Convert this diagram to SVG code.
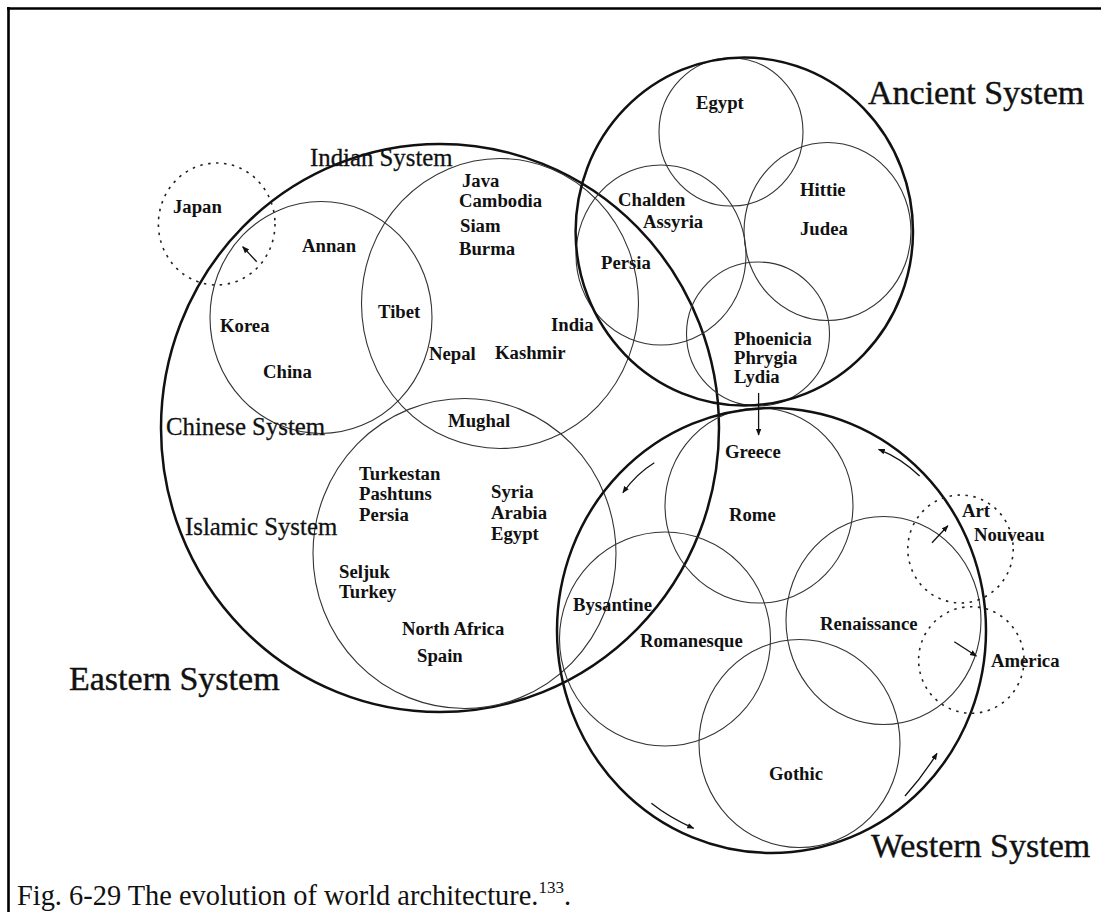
<svg xmlns="http://www.w3.org/2000/svg" width="1101" height="912" viewBox="0 0 1101 912">
  <style>
    .frame { fill: none; stroke: #000; stroke-width: 2.6; }
    .sys { fill: none; stroke: #111; stroke-width: 2.5; }
    .sub { fill: none; stroke: #333; stroke-width: 1.1; }
    .dash { fill: none; stroke: #222; stroke-width: 1.6; stroke-dasharray: 2.5 5.5; }
    .arr { fill: none; stroke: #111; stroke-width: 1.3; marker-end: url(#head); }
    .place { font-family: "Liberation Serif", "Times New Roman", serif; font-weight: bold; font-size: 18.7px; fill: #111; }
    .subsys { font-family: "Liberation Serif", "Times New Roman", serif; font-size: 24.8px; fill: #111; stroke: #111; stroke-width: 0.3; }
    .big { font-family: "Liberation Serif", "Times New Roman", serif; font-size: 34px; fill: #111; stroke: #111; stroke-width: 0.4; }
    .cap { font-family: "Liberation Serif", "Times New Roman", serif; font-size: 28.4px; fill: #111; }
  </style>
  <defs>
    <marker id="head" viewBox="0 0 10 10" refX="9" refY="5" markerWidth="7" markerHeight="7" markerUnits="userSpaceOnUse" orient="auto">
      <path d="M0,1 L10,5 L0,9 Z" fill="#111"/>
    </marker>
  </defs>
  <rect width="1101" height="912" fill="#fff"/>

  <!-- page frame -->
  <path class="frame" d="M7,8.5 H1101 M8.5,7 V912"/>

  <!-- Eastern System -->
  <g id="eastern">
    <ellipse class="sys" cx="440" cy="428" rx="279" ry="284"/>
    <text class="big" x="69" y="690">Eastern System</text>
  </g>

  <g id="chinese">
    <ellipse class="sub" cx="321" cy="317.5" rx="111" ry="116"/>
    <text class="subsys" x="166" y="435">Chinese System</text>
    <text class="place" x="302" y="252">Annan</text>
    <text class="place" x="220" y="332">Korea</text>
    <text class="place" x="263" y="378">China</text>
  </g>

  <g id="indian">
    <ellipse class="sub" cx="500" cy="303.5" rx="138.5" ry="145"/>
    <text class="subsys" x="310" y="165.5">Indian System</text>
    <text class="place" x="462" y="187">Java</text>
    <text class="place" x="459" y="207">Cambodia</text>
    <text class="place" x="460" y="232">Siam</text>
    <text class="place" x="459" y="255">Burma</text>
    <text class="place" x="378" y="318">Tibet</text>
    <text class="place" x="551" y="331">India</text>
    <text class="place" x="429" y="360">Nepal</text>
    <text class="place" x="495" y="359">Kashmir</text>
  </g>

  <g id="islamic">
    <ellipse class="sub" cx="464.5" cy="553.5" rx="151.5" ry="155"/>
    <text class="subsys" x="185" y="535">Islamic System</text>
    <text class="place" x="448" y="427">Mughal</text>
    <text class="place" x="359" y="480">Turkestan</text>
    <text class="place" x="359" y="500">Pashtuns</text>
    <text class="place" x="359" y="521">Persia</text>
    <text class="place" x="491" y="498">Syria</text>
    <text class="place" x="491" y="519">Arabia</text>
    <text class="place" x="491" y="540">Egypt</text>
    <text class="place" x="339" y="578">Seljuk</text>
    <text class="place" x="339" y="598">Turkey</text>
    <text class="place" x="402" y="635">North Africa</text>
    <text class="place" x="417" y="662">Spain</text>
  </g>

  <g id="japan">
    <ellipse class="dash" cx="216.7" cy="224" rx="58.3" ry="61"/>
    <text class="place" x="173" y="213">Japan</text>
  </g>

  <!-- Ancient System -->
  <g id="ancient">
    <ellipse class="sub" cx="731" cy="132" rx="72" ry="74"/>
    <ellipse class="sub" cx="661" cy="255" rx="85" ry="90"/>
    <ellipse class="sub" cx="827.5" cy="231.5" rx="83.5" ry="89"/>
    <ellipse class="sub" cx="758" cy="334" rx="71.5" ry="72"/>
    <ellipse class="sys" cx="744.3" cy="231.5" rx="168.7" ry="174"/>
    <text class="big" x="868" y="104">Ancient System</text>
    <text class="place" x="696" y="109">Egypt</text>
    <text class="place" x="618" y="206">Chalden</text>
    <text class="place" x="643" y="228">Assyria</text>
    <text class="place" x="800" y="196">Hittie</text>
    <text class="place" x="800" y="235">Judea</text>
    <text class="place" x="601" y="269">Persia</text>
    <text class="place" x="734" y="345">Phoenicia</text>
    <text class="place" x="734" y="364">Phrygia</text>
    <text class="place" x="734" y="383">Lydia</text>
  </g>

  <!-- Western System -->
  <g id="western">
    <ellipse class="sub" cx="759" cy="505.5" rx="94" ry="97.5"/>
    <ellipse class="sub" cx="665" cy="639" rx="105.5" ry="107"/>
    <ellipse class="sub" cx="883.5" cy="620.5" rx="97.5" ry="104"/>
    <ellipse class="sub" cx="799.5" cy="743.5" rx="100.5" ry="104"/>
    <ellipse class="sys" cx="771.5" cy="630.5" rx="214.5" ry="222.5"/>
    <text class="big" x="871" y="857">Western System</text>
    <text class="place" x="725" y="458">Greece</text>
    <text class="place" x="729" y="521">Rome</text>
    <text class="place" x="573" y="611">Bysantine</text>
    <text class="place" x="640" y="647">Romanesque</text>
    <text class="place" x="820" y="630">Renaissance</text>
    <text class="place" x="769" y="780">Gothic</text>
  </g>

  <g id="art-nouveau">
    <ellipse class="dash" cx="960.5" cy="549" rx="52.7" ry="54"/>
    <text class="place" x="962" y="517">Art</text>
    <text class="place" x="974" y="541">Nouveau</text>
  </g>

  <g id="america">
    <ellipse class="dash" cx="971.3" cy="660" rx="52.7" ry="53.3"/>
    <text class="place" x="991" y="667">America</text>
  </g>

  <!-- arrows of influence -->
  <g id="connectors">
    <path class="arr" d="M256.7,261.7 L242.7,246.7"/>
    <path class="arr" d="M758.6,393 L758.6,435"/>
    <path class="arr" d="M654.3,462.7 Q636,474 622.9,492.7"/>
    <path class="arr" d="M919.6,476 Q901,458 878.6,449.3"/>
    <path class="arr" d="M932,542.7 L947.9,525.7"/>
    <path class="arr" d="M954.3,641.7 L976.4,656"/>
    <path class="arr" d="M651.4,803.3 Q670,818 693.6,828.3"/>
    <path class="arr" d="M905,796 Q923,776 937,753.3"/>
  </g>

  <text class="cap" x="17" y="905">Fig. 6-29 The evolution of world architecture.<tspan font-size="17" dy="-12">133</tspan><tspan dy="12">.</tspan></text>
</svg>
